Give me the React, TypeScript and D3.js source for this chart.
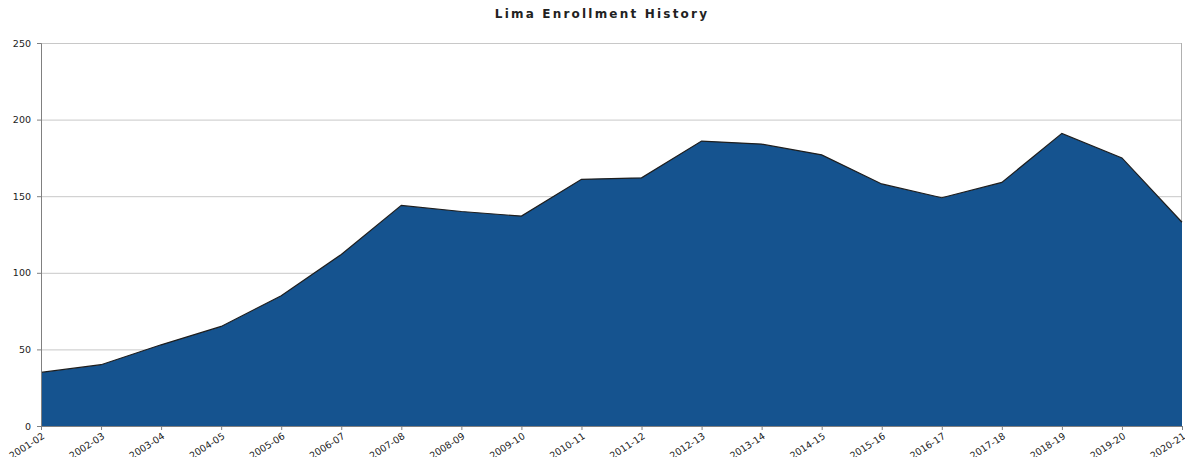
import React, { useEffect, useRef } from "react";
import * as d3 from "d3";

const years = [
  "2001-02", "2002-03", "2003-04", "2004-05", "2005-06", "2006-07", "2007-08",
  "2008-09", "2009-10", "2010-11", "2011-12", "2012-13", "2013-14", "2014-15",
  "2015-16", "2016-17", "2017-18", "2018-19", "2019-20", "2020-21",
];
const enrollment = [
  35, 40, 53, 65, 85, 112, 144, 140, 137, 161, 162, 186, 184, 177, 158, 149, 159,
  191, 175, 133,
];
const yTicks = [0, 50, 100, 150, 200, 250];

const App: React.FC = () => {
  const svgRef = useRef<SVGSVGElement>(null);

  useEffect(() => {
    const width = 1185;
    const height = 457;
    const margin = { top: 43, right: 3, bottom: 31, left: 41 };
    const innerW = width - margin.left - margin.right;
    const innerH = height - margin.top - margin.bottom;

    const svg = d3.select(svgRef.current);
    svg.selectAll("*").remove();
    svg.attr("width", width).attr("height", height);

    svg
      .append("text")
      .attr("x", 602)
      .attr("y", 18)
      .attr("text-anchor", "middle")
      .style("font-family", "DejaVu Sans, sans-serif")
      .style("font-size", "12px")
      .style("font-weight", "bold")
      .style("letter-spacing", "2.2px")
      .attr("fill", "#222")
      .text("Lima Enrollment History");

    const g = svg
      .append("g")
      .attr("transform", "translate(" + margin.left + "," + margin.top + ")");

    const x = d3.scalePoint<string>().domain(years).range([0, innerW]);
    const y = d3.scaleLinear().domain([0, 250]).range([innerH, 0]);

    // gridlines
    g.append("g")
      .selectAll("line")
      .data(yTicks.filter((t) => t > 0))
      .enter()
      .append("line")
      .attr("x1", 0)
      .attr("x2", innerW)
      .attr("y1", (d) => y(d) + 0.5)
      .attr("y2", (d) => y(d) + 0.5)
      .attr("stroke", "#c8c8c8")
      .attr("stroke-width", 1);

    // right border
    g.append("line")
      .attr("x1", innerW - 0.5)
      .attr("x2", innerW - 0.5)
      .attr("y1", 0)
      .attr("y2", innerH)
      .attr("stroke", "#b0b0b0");

    const data = years.map((yr, i) => ({ yr, v: enrollment[i] }));

    const area = d3
      .area<{ yr: string; v: number }>()
      .x((d) => x(d.yr) || 0)
      .y0(innerH)
      .y1((d) => y(d.v));

    const line = d3
      .line<{ yr: string; v: number }>()
      .x((d) => x(d.yr) || 0)
      .y((d) => y(d.v));

    g.append("path").datum(data).attr("d", area).attr("fill", "#15538f");
    g.append("path")
      .datum(data)
      .attr("d", line)
      .attr("fill", "none")
      .attr("stroke", "#1e1e1e")
      .attr("stroke-width", 1.2);

    // y axis
    const yAxis = g
      .append("g")
      .call(d3.axisLeft(y).tickValues(yTicks).tickSize(4).tickPadding(6));
    yAxis.select(".domain").attr("stroke", "#808080");
    yAxis.selectAll(".tick line").attr("stroke", "#808080");
    yAxis
      .selectAll("text")
      .style("font-family", "DejaVu Sans, sans-serif")
      .style("font-size", "9.5px")
      .attr("fill", "#222");

    // x axis
    const xAxis = g
      .append("g")
      .attr("transform", "translate(0," + innerH + ")")
      .call(d3.axisBottom(x).tickSize(4).tickPadding(0));
    xAxis.select(".domain").attr("stroke", "#808080");
    xAxis.selectAll(".tick line").attr("stroke", "#808080");
    xAxis
      .selectAll("text")
      .style("font-family", "DejaVu Sans, sans-serif")
      .style("font-size", "9.5px")
      .attr("fill", "#222")
      .style("text-anchor", "end")
      .attr("x", 0)
      .attr("y", 0)
      .attr("dy", "0.35em")
      .attr("transform", "translate(2,9) rotate(-33)");
  }, []);

  return (
    <div style={{ position: "absolute", left: 0, top: 0 }}>
      <svg ref={svgRef}></svg>
    </div>
  );
};

export default App;
